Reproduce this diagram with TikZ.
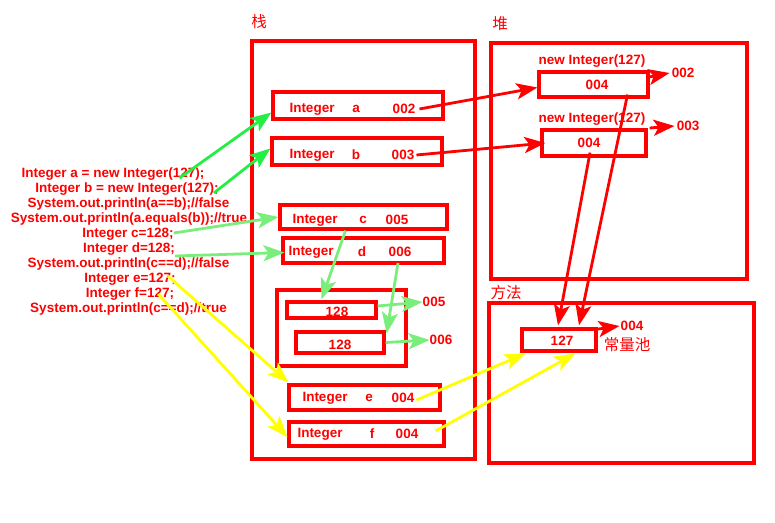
\documentclass[tikz,border=0pt]{standalone}
\usepackage{fontspec}
\setmainfont{Liberation Sans}
\newfontfamily\cjk{Noto Sans CJK SC}
\usepackage{tikz}
\usetikzlibrary{arrows.meta, positioning}

\begin{document}
\begin{tikzpicture}[
    x=1pt, y=-1pt,
    txt/.style={text=red, font=\bfseries\fontsize{13.5}{15}\selectfont, inner sep=0pt, yshift=-1pt},
    cjklabel/.style={text=red, font=\cjk\fontsize{15.5}{17}\selectfont, inner sep=0pt},
    region/.style={draw=red, line width=3.2pt, inner sep=0pt},
    cell/.style={draw=red, line width=3.2pt, inner sep=0pt},
    headed/.style={-{Stealth[length=21pt, width=16pt, inset=5pt]}, line width=2.8pt},
    redarrow/.style={headed, draw=red, fill=red},
    greenarrow/.style={headed, draw=green1, fill=green1},
    litearrow/.style={headed, draw=green2, fill=green2},
    yelarrow/.style={headed, draw=yellow1, fill=yellow1}
]
\definecolor{green1}{RGB}{34,238,68}
\definecolor{green2}{RGB}{122,238,122}
\definecolor{yellow1}{RGB}{255,255,0}

\useasboundingbox (0,0) rectangle (775,522);

% Three memory regions
\node[region, minimum width=223pt, minimum height=418pt] (stack) at (363.5,250) {};
\node[region, minimum width=256pt, minimum height=236pt] (heap) at (619,161) {};
\node[region, minimum width=265pt, minimum height=160pt] (method) at (621.5,383) {};
\node[cjklabel] (lstack) at (259,22) {栈};
\node[cjklabel] (lheap) at (500,24) {堆};
\node[cjklabel] (lmethod) at (506,293) {方法};

% Source code lines
\node[txt] (l1) at (113,173) {Integer a  = new Integer(127);};
\node[txt] (l2) at (127,188) {Integer b  = new Integer(127);};
\node[txt] (l3) at (128.5,203) {System.out.println(a==b);//false};
\node[txt] (l4) at (129,218) {System.out.println(a.equals(b));//true};
\node[txt] (l5) at (128,233) {Integer c=128;};
\node[txt] (l6) at (129,248) {Integer d=128;};
\node[txt] (l7) at (128.5,263) {System.out.println(c==d);//false};
\node[txt] (l8) at (130,278) {Integer e=127;};
\node[txt] (l9) at (130,293) {Integer f=127;};
\node[txt] (l10) at (128.5,308) {System.out.println(c==d);//true};

% Stack variables
\node[cell, minimum width=170pt, minimum height=27pt] (boxa) at (358,105.5) {};
\node[txt] at (312,108) {Integer};
\node[txt] at (356,108) {a};
\node[txt] (ra) at (404,108) {002};

\node[cell, minimum width=170pt, minimum height=27pt] (boxb) at (357,151.5) {};
\node[txt] at (312,154) {Integer};
\node[txt] at (356,154) {b};
\node[txt] (rb) at (403,154) {003};

\node[cell, minimum width=167pt, minimum height=24pt] (boxc) at (363.5,217) {};
\node[txt] at (315,219) {Integer};
\node[txt] at (363,219) {c};
\node[txt] (rc) at (397,219) {005};

\node[cell, minimum width=161pt, minimum height=25pt] (boxd) at (363.5,250.5) {};
\node[txt] at (311,251) {Integer};
\node[txt] at (362,251) {d};
\node[txt] (rd) at (400,251) {006};

% Boxed 128 objects
\node[cell, minimum width=129pt, minimum height=76pt] (group) at (341.5,328) {};
\node[cell, minimum width=89pt, minimum height=16pt] (box128a) at (331.5,310) {};
\node[txt] at (337,311) {128};
\node[cell, minimum width=88pt, minimum height=21pt] (box128b) at (340,342.5) {};
\node[txt] at (340,344) {128};
\node[txt] (n005) at (434,301) {005};
\node[txt] (n006) at (441,339) {006};

\node[cell, minimum width=151pt, minimum height=25pt] (boxe) at (364.5,397.5) {};
\node[txt] at (325,397) {Integer};
\node[txt] at (369,397) {e};
\node[txt] (re) at (403,397) {004};

\node[cell, minimum width=155pt, minimum height=24pt] (boxf) at (366.5,434) {};
\node[txt] at (320,433) {Integer};
\node[txt] at (372,433) {f};
\node[txt] (rf) at (407,433) {004};

% Heap objects
\node[txt] (new1) at (592,60) {new Integer(127)};
\node[cell, minimum width=109pt, minimum height=25pt] (heap1) at (593.5,84.5) {};
\node[txt] at (597,84) {004};
\node[txt] (n002) at (683,72) {002};

\node[txt] (new2) at (592,118) {new Integer(127)};
\node[cell, minimum width=104pt, minimum height=26pt] (heap2) at (594,143) {};
\node[txt] at (589,142) {004};
\node[txt] (n003) at (688,125) {003};

% Constant pool
\node[cell, minimum width=74pt, minimum height=22pt] (box127) at (559,340) {};
\node[txt] at (562,340) {127};
\node[txt] (n004) at (632,325) {004};
\node[cjklabel] (pool) at (627,345) {常量池};

% Code to stack
\draw[greenarrow] ([xshift=-25pt, yshift=-4pt]l1.east) -- ([yshift=-7pt]boxa.west);
\draw[greenarrow] ([xshift=-5pt, yshift=-4pt]l2.east) -- ([yshift=3pt]boxb.west);
\draw[litearrow] ([yshift=1pt]l5.east) -- (boxc.west);
\draw[litearrow] ([yshift=-7pt]l6.east) -- ([xshift=3pt, yshift=-2pt]boxd.west);
\draw[yelarrow] ([xshift=-8pt, yshift=3pt]l8.east) -- ([xshift=1pt, yshift=1pt]boxe.north west);
\draw[yelarrow] ([xshift=-16pt]l9.east) -- ([yshift=-3pt]boxf.west);

% Inside the stack
\draw[litearrow] ([xshift=-18pt]boxc.south) -- ([xshift=-10pt, yshift=1pt]box128a.north);
\draw[litearrow] ([xshift=-2pt, yshift=-6pt]rd.south) -- ([xshift=1pt, yshift=-3pt]box128b.north east);
\draw[litearrow] ([yshift=4pt]box128a.east) -- (n005.west);
\draw[litearrow] (box128b.east) -- (n006.west);

% Stack to heap
\draw[redarrow] ([xshift=4pt]ra.east) -- ([yshift=-3pt]heap1.west);
\draw[redarrow] ([xshift=2pt]rb.east) -- ([xshift=5pt]heap2.west);
\draw[redarrow] ([xshift=-3pt, yshift=7pt]heap1.east) -- ([xshift=-2pt]n002.west);
\draw[redarrow] ([xshift=2pt, yshift=15pt]heap2.east) -- ([xshift=-2pt]n003.west);

% Heap to constant pool
\draw[redarrow] ([xshift=34pt, yshift=4pt]heap1.south) -- ([xshift=20pt, yshift=2pt]box127.north);
\draw[redarrow] ([xshift=-4pt, yshift=5pt]heap2.south) -- ([xshift=-1pt, yshift=2pt]box127.north);
\draw[redarrow] ([xshift=-2pt, yshift=-2pt]box127.north east) -- ([xshift=-1pt]n004.west);

% Stack to constant pool
\draw[yelarrow] ([xshift=2pt, yshift=-2pt]re.east) -- ([xshift=5pt, yshift=-1pt]box127.south west);
\draw[yelarrow] ([xshift=-10pt, yshift=3pt]boxf.east) -- ([xshift=16pt, yshift=-1pt]box127.south);

\end{tikzpicture}
\end{document}
